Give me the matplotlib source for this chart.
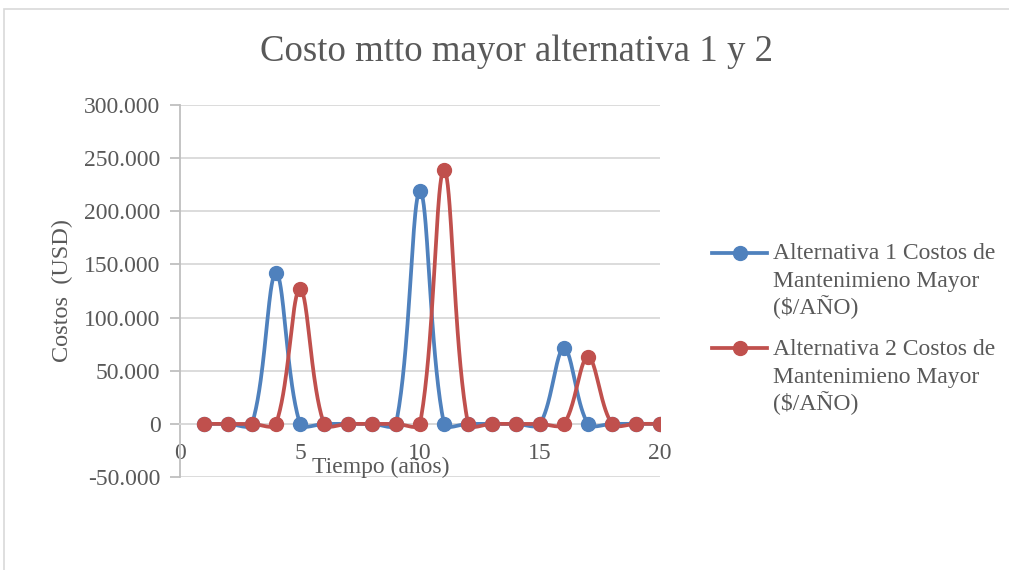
import numpy as np
import matplotlib
matplotlib.use("Agg")
import matplotlib.pyplot as plt
from matplotlib.patches import Rectangle
from matplotlib.lines import Line2D

# Years and major maintenance costs (USD) for each alternative
years = list(range(1, 21))
alt1_costs = [0, 0, 0, 142000, 0, 0, 0, 0, 0, 219000,
              0, 0, 0, 0, 0, 71000, 0, 0, 0, 0]
alt2_costs = [0, 0, 0, 0, 127000, 0, 0, 0, 0, 0,
              239000, 0, 0, 0, 0, 0, 63000, 0, 0, 0]
series_labels = [["Alternativa 1 Costos de", "Mantenimieno Mayor", "(\\$/AÑO)"],
                 ["Alternativa 2 Costos de", "Mantenimieno Mayor", "(\\$/AÑO)"]]
y_ticks = [-50000, 0, 50000, 100000, 150000, 200000, 250000, 300000]
x_ticks = [0, 5, 10, 15, 20]

BLUE = "#4F81BD"
RED = "#C0504D"
TEXT = "#595959"
GRID = "#D9D9D9"
FONT = "Liberation Serif"

plt.rcParams["font.family"] = [FONT, "DejaVu Serif"]

# pixel scale of one data unit, used so the smoothing works in screen space
PX_X = 480 / 20
PX_Y = 372 / 350000


def smooth(xs, ys, n=40):
    """Bezier smoothing through every point, tangents weighted by segment length."""
    x = np.asarray(xs, float) * PX_X
    y = np.asarray(ys, float) * PX_Y
    P = np.column_stack([x, y])
    P = np.vstack([P[0], P, P[-1]])
    t = np.linspace(0, 1, n)[:, None]
    out = []
    for i in range(1, len(x)):
        p0, p1 = P[i], P[i + 1]
        d_prev = np.linalg.norm(P[i] - P[i - 1])
        d_cur = np.linalg.norm(p1 - p0)
        d_next = np.linalg.norm(P[i + 2] - p1)
        f1 = d_cur / (d_prev + d_cur) if d_prev + d_cur > 0 else 0
        f2 = d_cur / (d_cur + d_next) if d_cur + d_next > 0 else 0
        b1 = p0 + (P[i + 1] - P[i - 1]) / 3 * f1
        b2 = p1 - (P[i + 2] - P[i]) / 3 * f2
        pts = ((1 - t) ** 3 * p0 + 3 * (1 - t) ** 2 * t * b1
               + 3 * (1 - t) * t ** 2 * b2 + t ** 3 * p1)
        out.append(pts)
    out = np.vstack(out)
    return out[:, 0] / PX_X, out[:, 1] / PX_Y


fig = plt.figure(figsize=(10.09, 5.70), dpi=100)
fig.patch.set_facecolor("white")

# Chart area border
fig.patches.append(Rectangle((4 / 1009, -0.2), 1.2, 1.2 - 9 / 570,
                             transform=fig.transFigure, fill=False,
                             edgecolor="#D9D9D9", linewidth=1.2, zorder=0))

ax = fig.add_axes([180 / 1009, 1 - 477 / 570, 480 / 1009, 372 / 570])
ax.set_xlim(0, 20)
ax.set_ylim(-50000, 300000)

for yv in y_ticks:
    ax.axhline(yv, color=GRID, linewidth=1.3, zorder=1)

for costs, color in [(alt1_costs, BLUE), (alt2_costs, RED)]:
    sx, sy = smooth(years, costs)
    ax.plot(sx, sy, color=color, linewidth=2.7, solid_capstyle="round", zorder=3)
    ax.plot(years, costs, linestyle="none", marker="o", markersize=10,
            color=color, zorder=4)

for s in ["top", "right"]:
    ax.spines[s].set_visible(False)
ax.spines["left"].set_color("#BFBFBF")
ax.spines["left"].set_linewidth(1.3)
ax.spines["bottom"].set_position(("data", 0))
ax.spines["bottom"].set_color(GRID)
ax.spines["bottom"].set_linewidth(1.3)

ax.set_yticks(y_ticks)
ax.set_yticklabels([f"{v:,.0f}".replace(",", ".") for v in y_ticks])
ax.set_xticks(x_ticks)
ax.set_xticklabels([str(v) for v in x_ticks])
ax.tick_params(axis="y", length=7, width=1.3, color="#BFBFBF", pad=7,
               labelsize=17, labelcolor=TEXT)
ax.tick_params(axis="x", length=0, pad=14, labelsize=17, labelcolor=TEXT)

fig.text(517 / 1009, 1 - 52 / 570, "Costo mtto mayor alternativa 1 y 2",
         ha="center", va="center", fontsize=26.5, color=TEXT)
fig.text(381 / 1009, 1 - 467 / 570, "Tiempo (años)", ha="center", va="center",
         fontsize=17, color=TEXT)
fig.text(62 / 1009, 1 - 290 / 570, "Costos  (USD)", ha="center", va="center",
         rotation=90, fontsize=17.5, color=TEXT)

# Legend: handle beside the first line of each wrapped label
for lines, color, mark_px, base_px in [(series_labels[0], BLUE, 253, 259),
                                       (series_labels[1], RED, 348, 355)]:
    yf = 1 - mark_px / 570
    fig.add_artist(Line2D([712 / 1009, 767 / 1009], [yf, yf], color=color,
                          linewidth=2.7, transform=fig.transFigure))
    fig.add_artist(Line2D([740 / 1009], [yf], color=color, marker="o",
                          markersize=10, transform=fig.transFigure))
    for k, line in enumerate(lines):
        fig.text(773 / 1009, 1 - (base_px + 27.5 * k) / 570, line,
                 ha="left", va="baseline", fontsize=17, color=TEXT)

fig.savefig("out.png", dpi=100, facecolor="white")
